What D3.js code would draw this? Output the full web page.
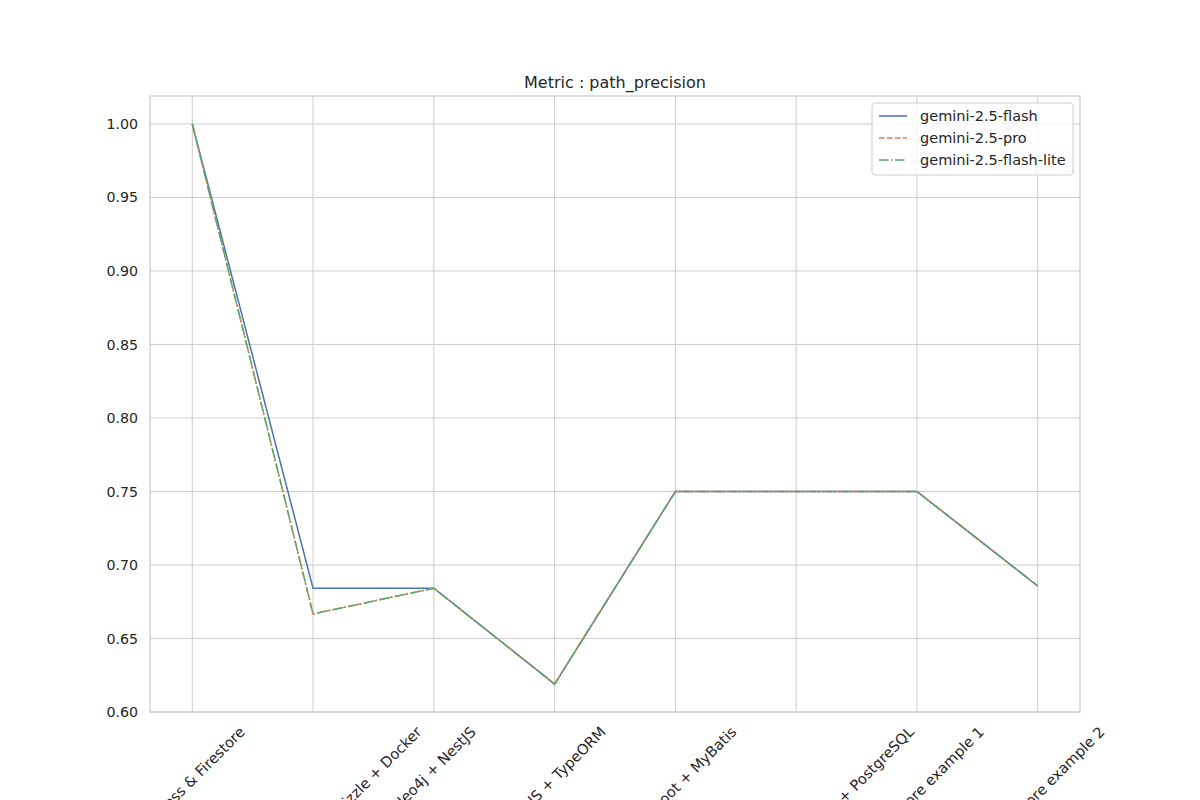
<!DOCTYPE html>
<html>
<head>
<meta charset="utf-8">
<script src="https://cdn.jsdelivr.net/npm/d3@7"></script>
<style>
  body { margin: 0; background: #fff; }
  text { font-family: "DejaVu Sans", sans-serif; fill: #262626; }
</style>
</head>
<body>
<div class="canvas"></div>
<script>
// projects on the x axis
var projects = [
	"Express & Firestore",
	"Next.js + PostgreSQL + Drizzle + Docker",
	"Neo4j + NestJS",
	"NestJS + TypeORM",
	"Spring Boot + MyBatis",
	"Spring Boot + Spring Data JPA + PostgreSQL",
	"Web Firestore example 1",
	"Web Firestore example 2"
];

var models = ["gemini-2.5-flash", "gemini-2.5-pro", "gemini-2.5-flash-lite"];

var flashValues = [1.0, 0.6842, 0.6842, 0.6190, 0.75, 0.75, 0.75, 0.6857];
var proValues = [1.0, 0.6667, 0.6842, 0.6190, 0.75, 0.75, 0.75, 0.6857];
var liteValues = [1.0, 0.6667, 0.6842, 0.6190, 0.75, 0.75, 0.75, 0.6857];

var yTicks = [0.60, 0.65, 0.70, 0.75, 0.80, 0.85, 0.90, 0.95, 1.00];

var colors = ["#4c72b0", "#dd8452", "#55a868"];
var dashes = ["none", "5.55,2.4", "9.6,2.4,1.5,2.4"];

var plotLeft = 150, plotRight = 1080, plotTop = 96, plotBottom = 712;

var svg = d3.select(".canvas")
	.append("svg")
	.attr("width", 1200)
	.attr("height", 800);

var x = d3.scaleLinear()
	.domain([-0.35, projects.length - 1 + 0.35])
	.range([plotLeft, plotRight]);

var y = d3.scaleLinear()
	.domain([0.6, 1.019])
	.range([plotBottom, plotTop]);

// grid
svg.append("g")
	.selectAll("line")
	.data(projects)
	.enter().append("line")
	.attr("x1", function(d, i){ return x(i); })
	.attr("x2", function(d, i){ return x(i); })
	.attr("y1", plotTop)
	.attr("y2", plotBottom)
	.attr("stroke", "#cccccc")
	.attr("stroke-width", 1);

svg.append("g")
	.selectAll("line")
	.data(yTicks)
	.enter().append("line")
	.attr("x1", plotLeft)
	.attr("x2", plotRight)
	.attr("y1", function(d){ return y(d); })
	.attr("y2", function(d){ return y(d); })
	.attr("stroke", "#cccccc")
	.attr("stroke-width", 1);

// frame
svg.append("rect")
	.attr("x", plotLeft)
	.attr("y", plotTop)
	.attr("width", plotRight - plotLeft)
	.attr("height", plotBottom - plotTop)
	.attr("fill", "none")
	.attr("stroke", "#cccccc")
	.attr("stroke-width", 1.25);

// y axis labels
var yAxis = d3.axisLeft(y)
	.tickValues(yTicks)
	.tickFormat(d3.format(".2f"))
	.tickSize(0)
	.tickPadding(12);

var yg = svg.append("g")
	.attr("transform", "translate(" + plotLeft + ",0)")
	.call(yAxis);
yg.select(".domain").remove();
yg.selectAll("text")
	.attr("font-family", "DejaVu Sans")
	.attr("font-size", 14.2)
	.attr("fill", "#262626");

// x axis labels, rotated 45 and centred on the tick like matplotlib
var xg = svg.append("g");
xg.selectAll("text")
	.data(projects)
	.enter().append("text")
	.attr("font-size", 14.6)
	.attr("text-anchor", "middle")
	.attr("dominant-baseline", "central")
	.text(function(d){ return d; })
	.each(function(d, i){
		var len = this.getComputedTextLength();
		var half = (len + 14) / 2 * Math.SQRT1_2;
		var cx = x(i), cy = plotBottom + 12 + half;
		d3.select(this)
			.attr("x", cx)
			.attr("y", cy)
			.attr("transform", "rotate(-45 " + cx + "," + cy + ")");
	});

// lines
var series = [flashValues, proValues, liteValues];

var line = d3.line()
	.x(function(d, i){ return x(i); })
	.y(function(d){ return y(d); });

svg.append("g")
	.selectAll("path")
	.data(series)
	.enter().append("path")
	.attr("d", line)
	.attr("fill", "none")
	.attr("stroke", function(d, i){ return colors[i]; })
	.attr("stroke-width", 1.5)
	.attr("stroke-dasharray", function(d, i){ return dashes[i]; });

// title
svg.append("text")
	.attr("x", (plotLeft + plotRight) / 2)
	.attr("y", 88)
	.attr("text-anchor", "middle")
	.attr("font-size", 16)
	.text("Metric : path_precision");

// legend
var legend = svg.append("g")
	.attr("transform", "translate(872,103)");

legend.append("rect")
	.attr("width", 201)
	.attr("height", 72)
	.attr("rx", 3)
	.attr("fill", "#fff")
	.attr("fill-opacity", 0.8)
	.attr("stroke", "#cccccc")
	.attr("stroke-width", 1);

var items = legend.selectAll("g")
	.data(models)
	.enter().append("g")
	.attr("transform", function(d, i){ return "translate(0," + (13 + i * 22) + ")"; });

items.append("line")
	.attr("x1", 7)
	.attr("x2", 35)
	.attr("stroke", function(d, i){ return colors[i]; })
	.attr("stroke-width", 1.5)
	.attr("stroke-dasharray", function(d, i){ return dashes[i]; });

items.append("text")
	.attr("x", 48)
	.attr("dy", "0.35em")
	.attr("font-size", 14.5)
	.text(function(d){ return d; });
</script>
</body>
</html>
